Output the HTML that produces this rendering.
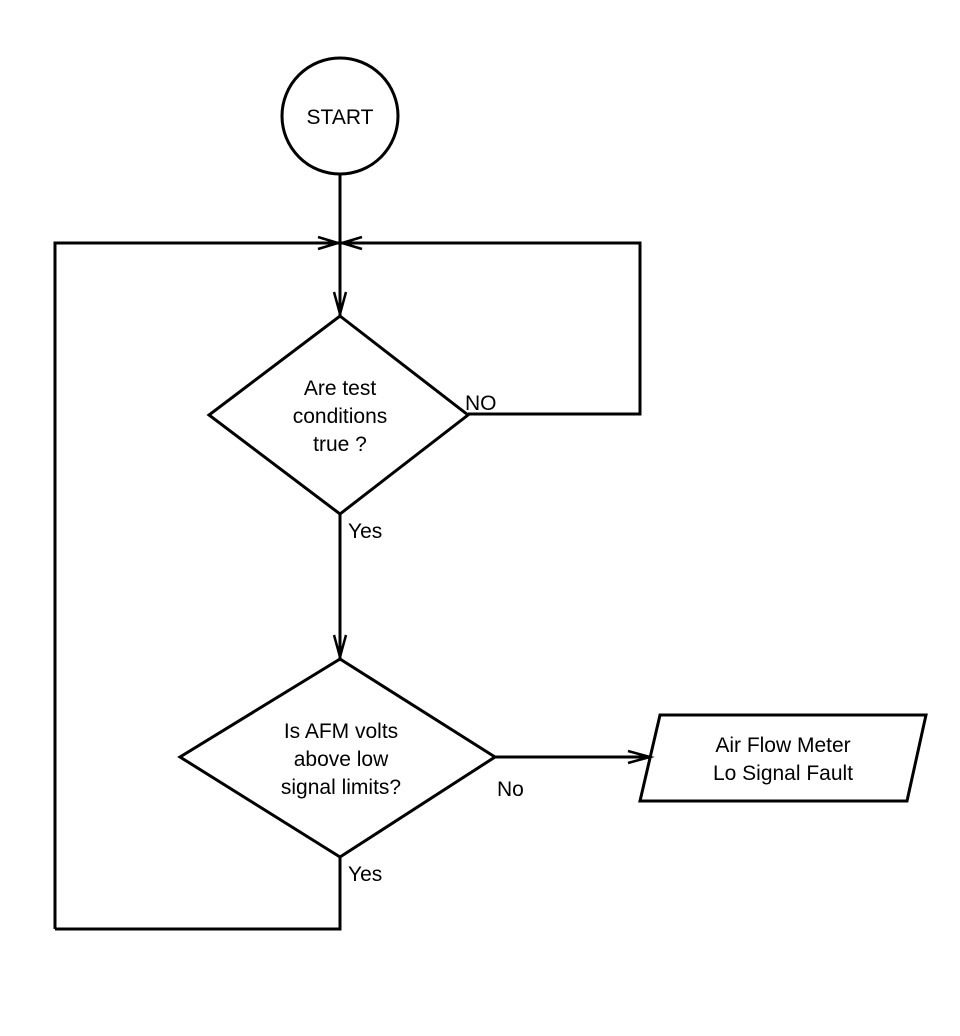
<!DOCTYPE html>
<html><head><style>body{margin:0;background:#fff}svg{display:block}text{font-family:"Liberation Sans",sans-serif;font-size:21px;fill:#000}</style></head>
<body>
<svg width="960" height="1036" viewBox="0 0 960 1036" xmlns="http://www.w3.org/2000/svg">
<g fill="none" stroke="#000" stroke-width="3">
<circle cx="340" cy="116" r="58"/>
<line x1="340" y1="174" x2="340" y2="316"/>
<polyline points="55,929 55,243 640,243 640,414 468,414"/>
<polygon points="340,316 468,415 340,514 209,415"/>
<line x1="340" y1="514" x2="340" y2="659"/>
<polygon points="340,659 495,757 340,857 180,757"/>
<line x1="495" y1="757" x2="650" y2="757"/>
<polygon points="660,715 926,715 907,801 640,801"/>
<polyline points="340,857 340,929 55,929"/>
<g stroke-width="2.5">
<polyline points="334,292 340,314 346,292"/>
<polyline points="334,635 340,657 346,635"/>
<polyline points="628,751 650,757 628,763"/>
<polyline points="318,237 338,243 318,249"/>
<polyline points="362,237 342,243 362,249"/>
</g>
</g>
<text x="340" y="124" text-anchor="middle">START</text>
<text x="340" y="395" text-anchor="middle">Are test</text>
<text x="340" y="423" text-anchor="middle">conditions</text>
<text x="340" y="451" text-anchor="middle">true ?</text>
<text x="465" y="410">NO</text>
<text x="348" y="538">Yes</text>
<text x="341" y="738" text-anchor="middle">Is AFM volts</text>
<text x="341" y="766" text-anchor="middle">above low</text>
<text x="341" y="794" text-anchor="middle">signal limits?</text>
<text x="497" y="796">No</text>
<text x="348" y="881">Yes</text>
<text x="783" y="752" text-anchor="middle">Air Flow Meter</text>
<text x="783" y="780" text-anchor="middle">Lo Signal Fault</text>
</svg>
</body></html>
